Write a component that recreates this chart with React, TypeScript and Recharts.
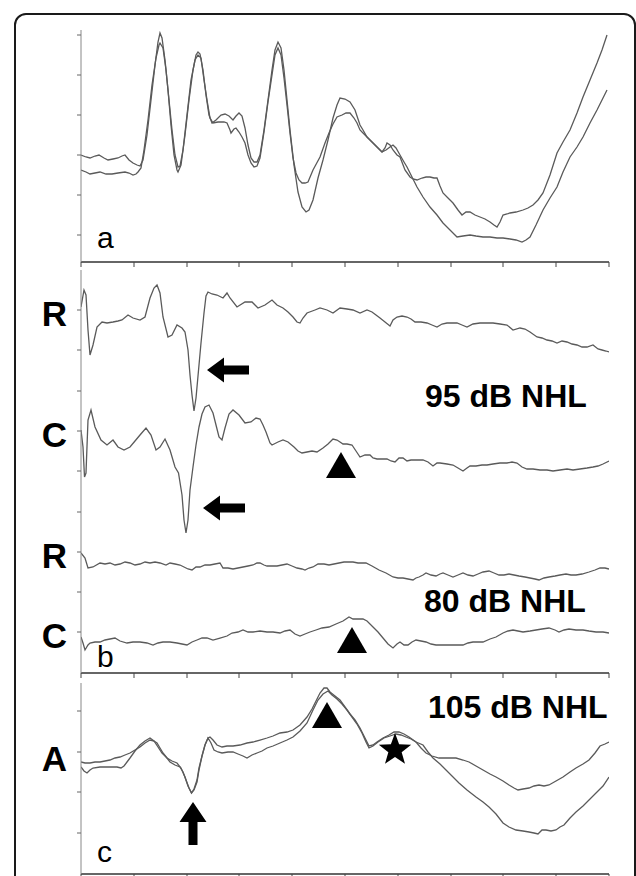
import React from 'react';
import { LineChart, Line, XAxis, YAxis, ReferenceDot } from 'recharts';

const FONT = '"Liberation Sans", Arial, Helvetica, sans-serif';
const TRACE = '#5a5a5a';

// time axis (arbitrary sample units), ticks
const timeTicks = [0, 53, 106, 158, 211, 264, 317, 370, 422, 475, 528];

// amplitude ticks per panel
const panelATicks = [27, 67, 107, 147, 187, 227];
const panelBTicks = [41, 81, 121, 161, 202, 242, 282, 323, 363];
const panelCTicks = [41, 82, 122, 163];
const panelBTickLabels: Record<number, string> = { 363: 'R', 242: 'C', 121: 'R', 41: 'C' };
const panelCTickLabels: Record<number, string> = { 122: 'A' };

// Panel a: two superimposed traces
const traceA1: [number, number][] = [
  [0,107],[5,105],[9,104],[14,106],[18,107],[23,104],[27,102],[32,103],[37,104],[41,106],[44,107],[48,102],[52,99],[56,97],[59,96],[62,102],[66,127],[70,162],[74,197],[77,220],[79,229],[81,224],[84,202],[87,172],[90,137],[93,107],[96,92],[97,90],[100,97],[104,127],[108,162],[112,192],[115,207],[117,210],[119,208],[122,192],[125,167],[128,147],[131,139],[135,142],[140,147],[144,148],[148,146],[152,142],[155,146],[158,149],[161,146],[164,134],[167,117],[170,104],[173,100],[176,100],[179,107],[183,132],[187,162],[191,192],[194,212],[197,220],[200,214],[203,192],[206,162],[209,132],[213,97],[217,70],[221,55],[225,50],[228,52],[232,62],[237,84],[242,102],[247,122],[252,144],[256,157],[259,164],[264,163],[269,160],[274,152],[279,137],[282,132],[286,125],[291,120],[295,116],[299,112],[301,110],[304,114],[306,119],[309,117],[312,112],[316,107],[319,105],[324,92],[329,85],[332,83],[336,82],[341,84],[345,85],[349,85],[353,84],[356,84],[359,76],[362,69],[367,64],[372,59],[377,52],[381,47],[385,50],[389,50],[394,47],[399,45],[404,43],[409,40],[413,37],[416,35],[419,40],[422,47],[426,48],[429,49],[435,50],[442,52],[447,54],[452,57],[457,62],[462,69],[469,87],[476,109],[482,120],[489,132],[496,149],[502,165],[509,182],[516,199],[521,212],[526,227]
];
const traceA2: [number, number][] = [
  [0,92],[5,90],[9,88],[14,89],[19,90],[25,88],[31,88],[37,89],[44,90],[48,89],[52,87],[55,88],[57,90],[60,94],[63,112],[67,142],[71,177],[75,204],[78,217],[79,219],[82,214],[85,192],[88,162],[91,132],[94,107],[97,95],[99,96],[102,112],[106,147],[110,182],[114,202],[117,207],[120,204],[123,182],[126,162],[129,144],[132,139],[137,140],[143,140],[146,139],[149,132],[150,129],[153,133],[155,134],[158,130],[161,125],[164,119],[167,107],[170,99],[173,95],[176,96],[179,104],[183,130],[187,160],[191,187],[194,207],[197,214],[200,207],[203,184],[206,157],[209,129],[212,104],[215,89],[218,82],[221,79],[224,79],[227,80],[232,92],[239,105],[244,119],[248,129],[252,138],[256,145],[261,147],[265,149],[269,149],[273,144],[276,139],[279,132],[282,129],[286,125],[291,120],[295,116],[299,112],[301,110],[305,112],[309,115],[312,117],[315,114],[319,107],[323,100],[326,95],[331,85],[336,75],[342,65],[349,55],[356,47],[362,39],[369,32],[376,25],[382,26],[389,27],[395,26],[402,25],[409,25],[416,24],[422,24],[429,23],[435,22],[441,20],[445,22],[449,25],[455,37],[462,52],[469,64],[476,75],[482,90],[489,105],[496,115],[502,125],[509,139],[516,152],[521,162],[526,172]
];

// Panel b: R and C traces at 95 dB and 80 dB
const traceR95: [number, number][] = [
  [0,366],[3,383],[5,378],[7,343],[9,318],[12,328],[16,346],[21,351],[26,350],[32,351],[37,352],[41,353],[47,358],[52,355],[59,353],[64,356],[69,375],[73,385],[76,388],[79,380],[82,356],[87,336],[91,338],[96,348],[101,345],[104,341],[107,323],[109,298],[111,278],[113,262],[115,275],[118,308],[120,330],[123,360],[125,377],[127,381],[131,379],[136,378],[142,375],[146,380],[149,375],[156,366],[164,371],[171,371],[177,365],[184,368],[191,373],[196,368],[202,365],[207,361],[212,356],[216,351],[219,350],[222,355],[226,360],[234,363],[239,365],[246,363],[252,360],[259,365],[266,364],[272,363],[279,360],[286,363],[291,361],[295,358],[299,355],[304,351],[309,347],[312,353],[316,356],[321,357],[326,356],[330,354],[334,351],[340,351],[346,350],[351,348],[356,346],[361,349],[366,350],[371,350],[376,350],[381,348],[386,346],[392,349],[399,350],[406,350],[412,350],[419,349],[426,348],[432,343],[439,345],[444,344],[449,341],[456,336],[461,335],[466,333],[471,332],[476,330],[481,332],[486,331],[491,329],[496,328],[501,326],[506,326],[512,328],[517,324],[521,323],[525,322],[528,321]
];
const traceC95: [number, number][] = [
  [0,243],[2,226],[3.5,196],[5,200],[7,253],[10,263],[14,246],[20,233],[26,228],[32,233],[37,226],[43,223],[49,226],[54,232],[59,238],[65,245],[70,238],[75,223],[79,226],[84,234],[89,223],[94,206],[97.5,200],[101,178],[103,153],[105,140],[107,153],[109,183],[112,206],[115,228],[118,246],[121,259],[124,266],[128,268],[132,260],[135,248],[138,236],[141,233],[144,245],[148,259],[152,263],[158,258],[164,250],[170,251],[175,255],[179,254],[182,248],[185,241],[189,230],[191,228],[197,231],[202,233],[207,231],[213,226],[217,222],[221,220],[226,221],[231,222],[236,221],[242,225],[247,229],[252,234],[256,233],[259,231],[262,229],[266,229],[271,228],[275,222],[279,216],[284,218],[289,218],[292,215],[296,214],[301,214],[306,214],[310,212],[314,211],[318,215],[322,215],[326,212],[330,213],[336,213],[342,213],[347,211],[352,207],[356,210],[359,210],[366,209],[372,208],[377,205],[382,202],[386,205],[389,207],[395,207],[401,208],[406,208],[412,209],[419,210],[426,210],[431,211],[436,210],[441,206],[446,204],[452,204],[459,203],[466,203],[472,202],[479,203],[486,204],[492,203],[499,204],[506,205],[512,206],[517,207],[522,209],[528,212]
];
const traceR80: [number, number][] = [
  [0,120],[4,115],[7,105],[12,106],[19,110],[24,109],[29,110],[34,108],[39,109],[44,111],[49,110],[54,108],[59,109],[64,111],[69,110],[74,111],[79,110],[85,108],[89,110],[94,109],[99,108],[103,106],[107,104],[111,103],[115,106],[119,106],[124,108],[129,108],[134,109],[139,110],[142,105],[147,105],[152,104],[157,105],[162,106],[167,107],[172,108],[176,110],[179,110],[183,108],[186,107],[191,107],[196,107],[201,108],[206,109],[211,107],[216,105],[221,104],[224,103],[228,105],[232,106],[237,109],[243,109],[248,108],[253,109],[258,110],[263,111],[268,111],[272,111],[277,110],[281,110],[285,110],[291,107],[298,103],[305,100],[312,96],[317,95],[322,95],[327,94],[332,93],[335,95],[338,96],[342,98],[345,100],[350,98],[355,97],[359,99],[362,100],[367,98],[372,96],[377,98],[382,100],[387,98],[392,97],[397,99],[402,101],[408,102],[413,100],[418,98],[423,98],[428,99],[433,98],[438,97],[444,96],[449,95],[454,94],[458,93],[463,95],[468,96],[474,97],[479,98],[485,99],[490,98],[495,98],[501,99],[508,101],[514,103],[519,105],[524,105],[528,104]
];
const traceC80: [number, number][] = [
  [0,36],[2,30],[4,23],[7,28],[9,30],[14,31],[19,31],[24,33],[29,34],[34,35],[39,32],[46,30],[52,31],[59,31],[66,30],[72,28],[77,30],[82,31],[89,31],[96,30],[101,29],[106,28],[111,31],[116,33],[121,35],[126,35],[132,33],[139,35],[146,37],[151,40],[157,41],[162,43],[167,41],[172,41],[179,42],[186,41],[192,41],[199,40],[204,42],[209,43],[214,39],[219,37],[224,39],[229,41],[235,43],[241,45],[248,46],[255,49],[262,52],[268,56],[272,54],[277,54],[282,54],[286,52],[292,46],[297,41],[302,35],[307,29],[312,25],[316,29],[319,31],[323,28],[327,28],[331,31],[335,33],[340,32],[345,31],[350,29],[355,28],[361,28],[368,28],[375,28],[382,28],[387,30],[392,31],[397,31],[402,31],[409,34],[415,36],[422,40],[427,42],[432,43],[437,42],[442,41],[449,42],[455,43],[461,44],[468,45],[474,43],[478,41],[483,43],[488,44],[495,43],[502,43],[508,42],[515,41],[522,41],[528,40]
];

// Panel c: two superimposed traces at 105 dB
const traceC1: [number, number][] = [
  [0,112],[4,111],[9,111],[14,112],[19,112],[24,113],[29,114],[34,116],[39,117],[44,119],[49,121],[54,124],[59,127],[64,131],[69,134],[73,133],[76,131],[79,126],[82,121],[86,116],[89,112],[94,109],[99,107],[102,102],[105,94],[108,86],[110.5,81],[113,84],[116,92],[118,104],[121,118],[124,129],[127,136],[129,137],[132,134],[136,129],[141,127],[146,128],[152,128],[159,129],[166,131],[172,132],[179,134],[186,136],[192,138],[199,141],[206,142],[212,144],[219,149],[226,157],[231,165],[235,173],[239,181],[243,186],[246,186],[249,182],[254,178],[259,174],[264,167],[269,160],[274,154],[279,146],[284,136],[288,128],[292,129],[296,132],[302,136],[308,139],[313,142],[318,142],[323,140],[328,137],[335,132],[340,126],[345,121],[351,118],[358,116],[366,116],[375,116],[382,114],[388,112],[395,108],[402,104],[409,100],[415,97],[422,93],[428,89],[433,86],[437,84],[442,85],[448,86],[453,88],[458,89],[463,88],[468,89],[475,93],[482,97],[489,102],[495,106],[502,110],[508,114],[514,121],[519,128],[524,130],[528,132]
];
const traceC2: [number, number][] = [
  [0,107],[3,103],[6,101],[9,104],[12,106],[19,107],[26,107],[32,107],[36,107],[40,106],[43,108],[46,112],[49,116],[54,123],[59,129],[64,133],[69,136],[73,133],[77,127],[81,121],[86,116],[91,113],[96,111],[100,106],[104,97],[107,88],[110.5,81],[113,85],[116,94],[118,106],[121,118],[124,129],[127,136],[130,131],[133,124],[137,122],[141,121],[147,122],[152,122],[157,120],[162,118],[166,116],[171,119],[176,121],[181,123],[186,126],[192,128],[199,131],[206,134],[212,137],[219,143],[226,151],[232,164],[237,174],[242,180],[247,183],[251,179],[256,175],[261,170],[266,164],[271,157],[276,150],[281,141],[285,132],[288,126],[292,128],[297,132],[303,136],[309,138],[315,140],[320,139],[325,137],[330,135],[335,132],[342,129],[347,122],[352,116],[359,110],[365,104],[371,98],[378,91],[386,84],[395,77],[402,72],[408,67],[415,60],[422,51],[428,47],[435,44],[442,43],[448,42],[453,41],[457,40],[461,44],[465,44],[470,43],[475,44],[479,47],[483,49],[489,56],[495,62],[502,68],[508,74],[515,81],[522,88],[528,97]
];

// Annotations (data coordinates)
const panelALetter = { t: 16, v: 14, text: 'a' };
const panelBLetter = { t: 16, v: 6, text: 'b' };
const panelCLetter = { t: 16, v: 12, text: 'c' };
const panelBLevels = [
  { t: 344, v: 266, text: '95 dB NHL' },
  { t: 343, v: 61, text: '80 dB NHL' },
];
const panelCLevels = [{ t: 347, v: 156, text: '105 dB NHL' }];
const panelBArrows = [
  { t: 126, v: 303 },
  { t: 122, v: 165 },
];
const panelBTriangles = [
  { t: 260, v: 221 },
  { t: 271, v: 46 },
];
const panelCTriangles = [{ t: 246, v: 172 }];
const panelCStars = [{ t: 314, v: 124 }];
const panelCUpArrows = [{ t: 112, v: 72 }];

const toData = (arr: [number, number][]) => arr.map(([t, v]) => ({ t, v }));

const LeftArrow = (p: any) => {
  const { cx, cy } = p;
  const pts = [
    [cx, cy], [cx + 17, cy - 12.5], [cx + 17, cy - 4.5], [cx + 42, cy - 4.5],
    [cx + 42, cy + 4.5], [cx + 17, cy + 4.5], [cx + 17, cy + 12.5],
  ].map((q) => q.join(',')).join(' ');
  return <polygon points={pts} fill="#000" />;
};
const UpArrow = (p: any) => {
  const { cx, cy } = p;
  const pts = [
    [cx, cy], [cx + 13.5, cy + 20], [cx + 4.5, cy + 20], [cx + 4.5, cy + 43],
    [cx - 4.5, cy + 43], [cx - 4.5, cy + 20], [cx - 13.5, cy + 20],
  ].map((q) => q.join(',')).join(' ');
  return <polygon points={pts} fill="#000" />;
};
const Triangle = (p: any) => {
  const { cx, cy } = p;
  return <polygon points={`${cx},${cy} ${cx + 15},${cy + 26} ${cx - 15},${cy + 26}`} fill="#000" />;
};
const Star = (p: any) => {
  const { cx, cy } = p;
  const pts: string[] = [];
  for (let i = 0; i < 10; i++) {
    const r = i % 2 === 0 ? 17 : 7;
    const a = -Math.PI / 2 + (i * Math.PI) / 5;
    pts.push(`${cx + r * Math.cos(a)},${cy + r * Math.sin(a)}`);
  }
  return <polygon points={pts.join(' ')} fill="#000" />;
};
const makeText = (text: string, size: number, bold: boolean) => (p: any) => (
  <text x={p.cx} y={p.cy} fontFamily={FONT} fontSize={size} fontWeight={bold ? 700 : 400} fill="#000">
    {text}
  </text>
);

const makeYTick = (labels: Record<number, string>, dy: number) => (p: any) => {
  const { x, y, payload } = p;
  const lab = labels[payload.value];
  if (!lab) return <g />;
  return (
    <text x={x} y={y + dy} textAnchor="end" fontFamily={FONT} fontSize={35} fontWeight={700} fill="#000" dominantBaseline="central">
      {lab}
    </text>
  );
};

const xAxisProps = {
  type: 'number' as const,
  dataKey: 't',
  domain: [0, 528],
  ticks: timeTicks,
  tickFormatter: () => '',
  tickSize: 5,
  stroke: '#333',
  axisLine: { stroke: '#333', strokeWidth: 1.5 },
  tickLine: { stroke: '#444', strokeWidth: 1 },
  allowDataOverflow: true,
};

const traceProps = {
  dataKey: 'v',
  stroke: TRACE,
  strokeWidth: 1.3,
  dot: false,
  isAnimationActive: false,
  type: 'linear' as const,
};

export default function App() {
  return (
    <div style={{ position: 'relative', width: 636, height: 876, overflow: 'hidden', background: '#fff' }}>
      <style>{'body{margin:0}'}</style>
      <div
        style={{
          position: 'absolute', left: 14, top: 13, width: 622, height: 900,
          boxSizing: 'border-box', border: '2px solid #1a1a1a', borderRadius: 12,
        }}
      />
      {/* Panel a */}
      <div style={{ position: 'absolute', left: 0, top: 0 }}>
        <LineChart width={636} height={280} margin={{ top: 30, right: 27, bottom: 0, left: 21 }}>
          <XAxis {...xAxisProps} height={18} />
          <YAxis
            type="number" domain={[0, 232]} ticks={panelATicks} width={60}
            tickFormatter={() => ''} tickSize={4}
            axisLine={{ stroke: '#888' }} tickLine={{ stroke: '#666' }} allowDataOverflow
          />
          <Line {...traceProps} data={toData(traceA1)} />
          <Line {...traceProps} data={toData(traceA2)} />
          <ReferenceDot x={panelALetter.t} y={panelALetter.v} r={0} shape={makeText(panelALetter.text, 30, false)} />
        </LineChart>
      </div>
      {/* Panel b */}
      <div style={{ position: 'absolute', left: 0, top: 250 }}>
        <LineChart width={636} height={430} margin={{ top: 20, right: 27, bottom: 0, left: 21 }}>
          <XAxis {...xAxisProps} height={7} />
          <YAxis
            type="number" domain={[0, 403]} ticks={panelBTicks} width={60}
            tick={makeYTick(panelBTickLabels, 3)} tickSize={4} tickMargin={10}
            axisLine={{ stroke: '#888' }} tickLine={{ stroke: '#666' }} allowDataOverflow
          />
          <Line {...traceProps} data={toData(traceR95)} />
          <Line {...traceProps} data={toData(traceC95)} />
          <Line {...traceProps} data={toData(traceR80)} />
          <Line {...traceProps} data={toData(traceC80)} />
          {panelBLevels.map((d, i) => (
            <ReferenceDot key={'bl' + i} x={d.t} y={d.v} r={0} shape={makeText(d.text, 32, true)} />
          ))}
          {panelBArrows.map((d, i) => (
            <ReferenceDot key={'ba' + i} x={d.t} y={d.v} r={0} shape={LeftArrow} />
          ))}
          {panelBTriangles.map((d, i) => (
            <ReferenceDot key={'bt' + i} x={d.t} y={d.v} r={0} shape={Triangle} />
          ))}
          <ReferenceDot x={panelBLetter.t} y={panelBLetter.v} r={0} shape={makeText(panelBLetter.text, 30, false)} />
        </LineChart>
      </div>
      {/* Panel c */}
      <div style={{ position: 'absolute', left: 0, top: 676 }}>
        <LineChart width={636} height={200} margin={{ top: 7, right: 27, bottom: 0, left: 21 }}>
          <XAxis {...xAxisProps} height={2} />
          <YAxis
            type="number" domain={[0, 191]} ticks={panelCTicks} width={60}
            tick={makeYTick(panelCTickLabels, 6)} tickSize={4} tickMargin={10}
            axisLine={{ stroke: '#888' }} tickLine={{ stroke: '#666' }} allowDataOverflow
          />
          <Line {...traceProps} data={toData(traceC1)} />
          <Line {...traceProps} data={toData(traceC2)} />
          {panelCLevels.map((d, i) => (
            <ReferenceDot key={'cl' + i} x={d.t} y={d.v} r={0} shape={makeText(d.text, 32, true)} />
          ))}
          {panelCTriangles.map((d, i) => (
            <ReferenceDot key={'ct' + i} x={d.t} y={d.v} r={0} shape={Triangle} />
          ))}
          {panelCStars.map((d, i) => (
            <ReferenceDot key={'cs' + i} x={d.t} y={d.v} r={0} shape={Star} />
          ))}
          {panelCUpArrows.map((d, i) => (
            <ReferenceDot key={'cu' + i} x={d.t} y={d.v} r={0} shape={UpArrow} />
          ))}
          <ReferenceDot x={panelCLetter.t} y={panelCLetter.v} r={0} shape={makeText(panelCLetter.text, 30, false)} />
        </LineChart>
      </div>
    </div>
  );
}
